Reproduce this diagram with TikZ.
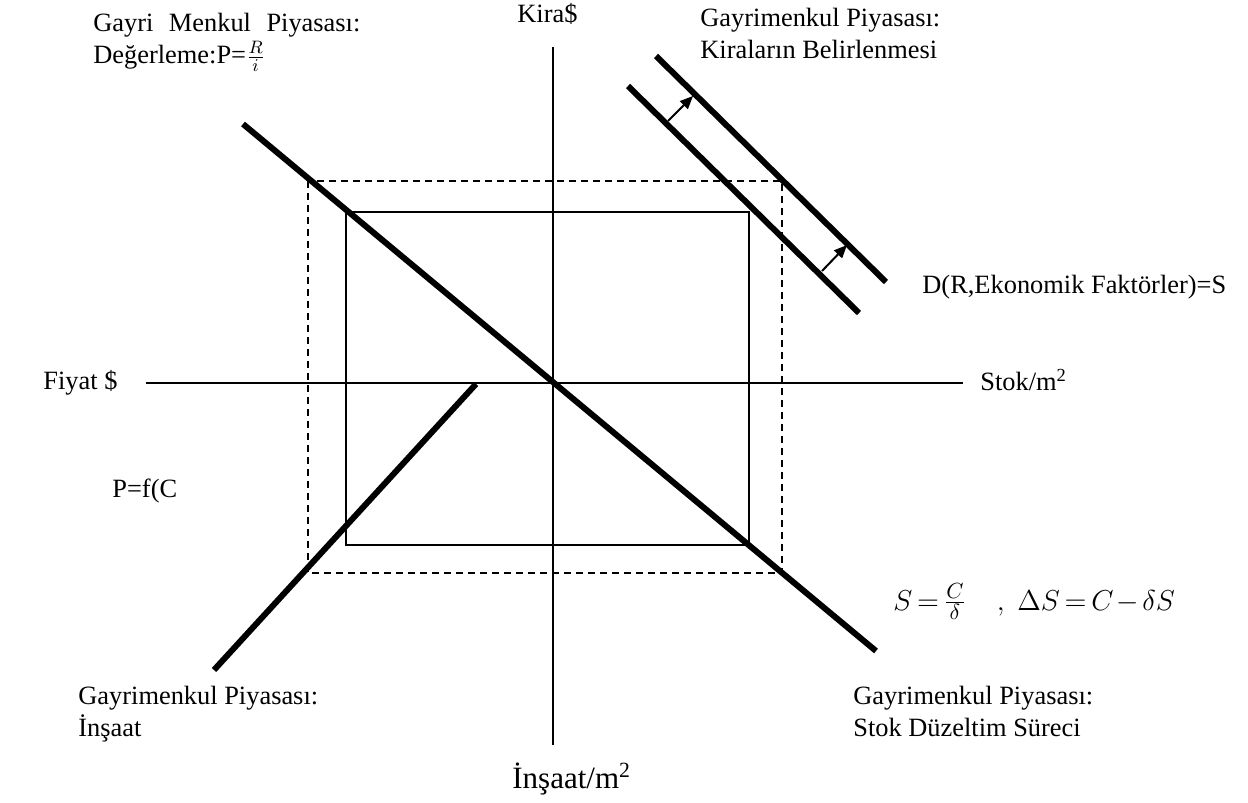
\documentclass[tikz,border=0pt]{standalone}
\usepackage{fontspec}
\setmainfont{Liberation Serif}
\usepackage{tikz}
\usetikzlibrary{positioning, arrows.meta}

\begin{document}
\begin{tikzpicture}[x=0.5pt, y=-0.5pt,
        lbl/.style={inner sep=0pt, anchor=base west, align=left,
                    font=\fontsize{13.2}{15.75}\selectfont},
        curve/.style={line width=3pt},
        thin/.style={line width=0.9pt},
        box2/.style={line width=0.9pt, dash pattern=on 3.6pt off 2.4pt},
        moveup/.style={line width=1pt, -{Triangle[length=6.5pt,width=5.5pt]}}]
      \useasboundingbox (0,0) rectangle (1248,803);
      % axes
      \draw[thin] (553,47) coordinate (kt) -- (553,745) coordinate (kb);
      \draw[thin] (146,383) coordinate (fl) -- (963,383) coordinate (fr);
      % the two squares
      \draw[box2] (308,181) coordinate (d1) rectangle (782,573) coordinate (d2);
      \draw[thin] (346,212) coordinate (s1) rectangle (749,545) coordinate (s2);
      % market curves
      \draw[curve] (243,124) coordinate (v1) -- (876,651) coordinate (v2);
      \draw[curve] (476,384) coordinate (c1) -- (214,670) coordinate (c2);
      \draw[curve] (628,86) coordinate (r1) -- (859,313) coordinate (r2);
      \draw[curve] (656,56) coordinate (q1) -- (886,282) coordinate (q2);
      \draw[moveup] (668,121) coordinate (a1) -- (693,96) coordinate (b1);
      \draw[moveup] (822,271) coordinate (a2) -- (847,245) coordinate (b2);
      % labels (base = last line)
      \node[lbl] (kira) at (517,22) {Kira\$};
      \node[lbl] (fiyat) at (43,389) {Fiyat \$};
      \node[lbl] (stok) at (980,390) {Stok/m\textsuperscript{2}};
      \node[lbl] (deger) at (93,63) {\makebox[133.5pt][s]{Gayri Menkul Piyasası:}\\Değerleme:P=$\frac{R}{i}$};
      \node[lbl] (kiralar) at (700,58) {Gayrimenkul Piyasası:\\Kiraların Belirlenmesi};
      \node[lbl] (talep) at (922,293) {D(R,Ekonomik Faktörler)=S};
      \node[lbl] (pfc) at (112,497) {P=f(C};
      \node[lbl, font=\fontsize{15.5}{17}\selectfont] (stokeq) at (893,610)
        {\thickmuskip=3mu \medmuskip=2mu $S=\frac{C}{\delta}\quad,\ \Delta S=C-\delta S$};
      \node[lbl] (insaat) at (78,736) {Gayrimenkul Piyasası:\\İnşaat};
      \node[lbl] (duzelt) at (853,736) {Gayrimenkul Piyasası:\\Stok Düzeltim Süreci};
      \node[lbl, font=\fontsize{15.5}{18}\selectfont] (imetre) at (512,788) {İnşaat/m\textsuperscript{2}};
    \end{tikzpicture}
\end{document}
